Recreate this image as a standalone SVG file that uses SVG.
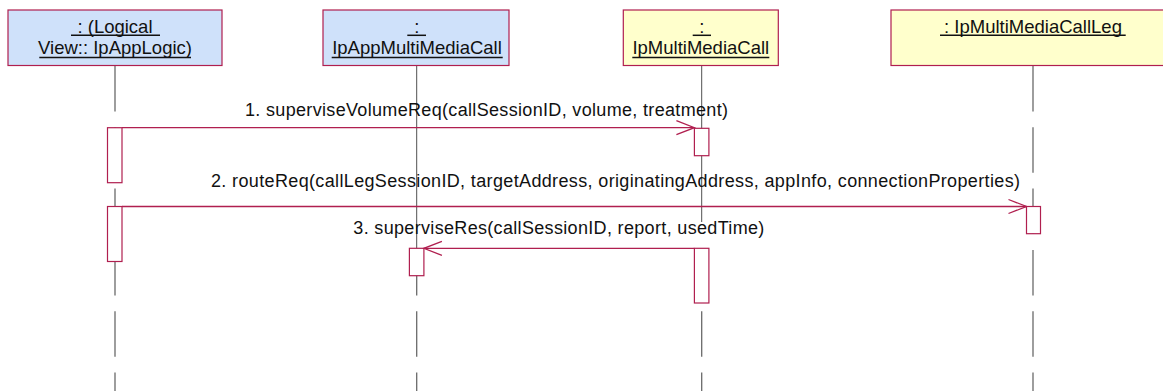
<svg xmlns="http://www.w3.org/2000/svg" width="1163" height="391" viewBox="0 0 1163 391">
<defs>
<marker id="open" markerUnits="userSpaceOnUse" markerWidth="20" markerHeight="16" refX="18" refY="7" orient="auto" overflow="visible">
<path d="M0,0 L18,7 L0,14" fill="none" stroke="#b01f4f" stroke-width="1.3"/>
</marker>
</defs>
<style>
.obj{stroke:#b01f4f;stroke-width:1.2}
.blue{fill:#cfe1fa}
.yel{fill:#ffffcc}
.t{font-family:"Liberation Sans",Arial,sans-serif;font-size:18.5px;fill:#111}
.m{font-family:"Liberation Sans",Arial,sans-serif;font-size:18px;fill:#111}
.ul{stroke:#111;stroke-width:1.5}
.life{stroke:#6a6a6a;stroke-width:1.3;stroke-dasharray:45.5 15.8;fill:none}
.solid{stroke:#505050;stroke-width:1;fill:none}
.act{fill:#fff;stroke:#b01f4f;stroke-width:1.2}
.msg{stroke:#b01f4f;stroke-width:1.3;fill:none;marker-end:url(#open)}
</style>
<rect width="1163" height="391" fill="#fff"/>

<g id="lifelines">
<line class="life" x1="115" y1="66" x2="115" y2="391"/>
<line class="solid" x1="416.7" y1="65" x2="416.7" y2="249"/>
<line class="life" x1="416.7" y1="249.9" x2="416.7" y2="391"/>
<line class="solid" x1="701.7" y1="65" x2="701.7" y2="222"/>
<line class="life" x1="701.7" y1="249.9" x2="701.7" y2="391"/>
<line class="life" x1="1033" y1="66" x2="1033" y2="391"/>
</g>

<g id="obj1">
<rect class="obj blue" x="8" y="10" width="214" height="55.5"/>
<text class="t" x="115" y="33.3" text-anchor="middle">: (Logical</text>
<line class="ul" x1="71" y1="35.3" x2="160" y2="35.3"/>
<text class="t" x="115" y="54.3" text-anchor="middle">View:: IpAppLogic)</text>
<line class="ul" x1="39.3" y1="57.5" x2="191" y2="57.5"/>
</g>

<g id="obj2">
<rect class="obj blue" x="323" y="10" width="186" height="55.5"/>
<text class="t" x="416.7" y="33.3" text-anchor="middle">:</text>
<line class="ul" x1="407.3" y1="35.3" x2="426" y2="35.3"/>
<text class="t" x="417" y="54.3" text-anchor="middle">IpAppMultiMediaCall</text>
<line class="ul" x1="331.7" y1="57.5" x2="502.7" y2="57.5"/>
</g>

<g id="obj3">
<rect class="obj yel" x="623.3" y="10" width="155" height="55.5"/>
<text class="t" x="701.7" y="33.3" text-anchor="middle">:</text>
<line class="ul" x1="692.7" y1="35.3" x2="711" y2="35.3"/>
<text class="t" x="700.8" y="54.3" text-anchor="middle">IpMultiMediaCall</text>
<line class="ul" x1="632.3" y1="57.5" x2="769.3" y2="57.5"/>
</g>

<g id="obj4">
<rect class="obj yel" x="891" y="10" width="290" height="55.5"/>
<text class="t" x="1033" y="33.3" text-anchor="middle">: IpMultiMediaCallLeg</text>
<line class="ul" x1="940" y1="35.3" x2="1125.7" y2="35.3"/>
</g>

<g id="activations">
<rect class="act" x="107.5" y="127.7" width="14.5" height="55"/>
<rect class="act" x="107.5" y="206.5" width="14.5" height="55"/>
<rect class="act" x="694.4" y="128.3" width="14.5" height="27.4"/>
<rect class="act" x="694.4" y="248.3" width="14.5" height="54.7"/>
<rect class="act" x="409.4" y="248.3" width="14.5" height="27.4"/>
<rect class="act" x="1026.5" y="206.5" width="14" height="27.2"/>
</g>

<g id="connectors">
<line class="msg" x1="122" y1="127.7" x2="694.4" y2="127.7"/>
<line class="msg" x1="122" y1="206.5" x2="1026.5" y2="206.5"/>
<line class="msg" x1="694.4" y1="248.3" x2="423.9" y2="248.3"/>
<text class="m" x="245" y="116" textLength="483" lengthAdjust="spacing">1. superviseVolumeReq(callSessionID, volume, treatment)</text>
<text class="m" x="211" y="186.5" textLength="809" lengthAdjust="spacing">2. routeReq(callLegSessionID, targetAddress, originatingAddress, appInfo, connectionProperties)</text>
<text class="m" x="353.3" y="233.5" textLength="411" lengthAdjust="spacing">3. superviseRes(callSessionID, report, usedTime)</text>
</g>
</svg>
